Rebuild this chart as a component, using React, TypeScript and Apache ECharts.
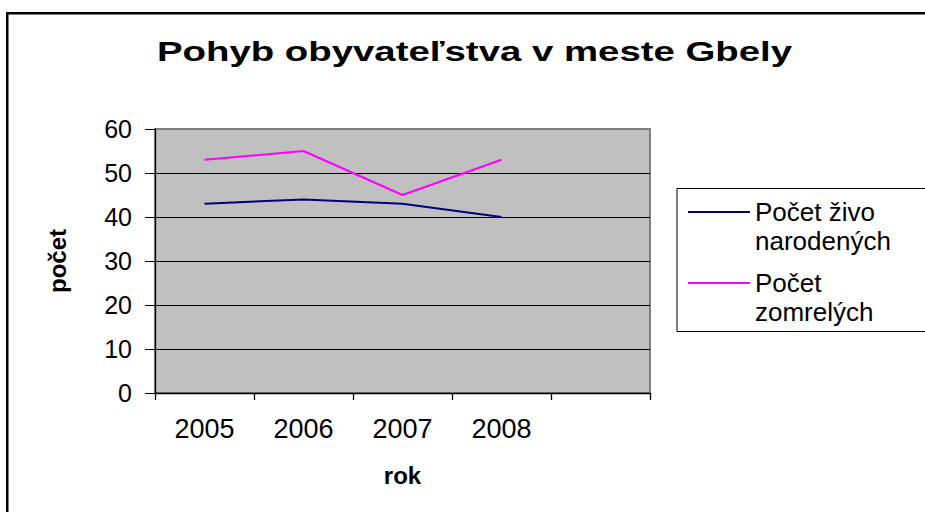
import { useEffect, useRef } from 'react';
import * as echarts from 'echarts';

const titleText = 'Pohyb obyvateľstva v meste Gbely';
const categories = ['2005', '2006', '2007', '2008', ''];
const bornSeriesName = 'Počet živo narodených';
const diedSeriesName = 'Počet zomrelých';
const bornValues = [43, 44, 43, 40];
const diedValues = [53, 55, 45, 53];
const legendLines: Record<string, string> = {
  'Počet živo narodených': 'Počet živo\nnarodených',
  'Počet zomrelých': 'Počet\nzomrelých',
};
const xAxisName = 'rok';
const yAxisName = 'počet';
const yMin = 0;
const yMax = 60;
const yInterval = 10;

const FONT = '"Liberation Sans", Arial, Helvetica, sans-serif';

export default function App() {
  const ref = useRef<HTMLDivElement>(null);

  useEffect(() => {
    if (!ref.current) return;
    const chart = echarts.init(ref.current, undefined, { renderer: 'svg' });
    const splitColors: string[] = [];
    for (let v = yMin; v <= yMax; v += yInterval) {
      splitColors.push(v === yMax ? '#808080' : '#000000');
    }
    chart.setOption({
      animation: false,
      backgroundColor: '#ffffff',
      textStyle: { fontFamily: FONT },
      graphic: [
        {
          type: 'rect',
          z: -10,
          silent: true,
          shape: { x: 7.25, y: 13.2, width: 1000, height: 700 },
          style: { fill: 'none', stroke: '#000', lineWidth: 2.5 },
        },
        {
          type: 'rect',
          z: -5,
          silent: true,
          shape: { x: 677, y: 188.5, width: 400, height: 143 },
          style: { fill: '#ffffff', stroke: '#000', lineWidth: 1 },
        },
        {
          type: 'text',
          x: 474.5,
          y: 51,
          scaleX: 1.37,
          silent: true,
          style: {
            text: titleText,
            fontFamily: FONT,
            fontSize: 28,
            fontWeight: 'bold',
            fill: '#000',
            align: 'center',
            verticalAlign: 'middle',
          },
        },
      ],
      grid: {
        left: 155,
        top: 129,
        width: 495,
        height: 264,
        show: true,
        backgroundColor: '#C0C0C0',
        borderColor: '#808080',
        borderWidth: 2,
        containLabel: false,
      },
      legend: {
        orient: 'vertical',
        left: 688,
        top: 168.5,
        padding: 0,
        icon: 'rect',
        itemWidth: 62,
        itemHeight: 2,
        itemGap: -16,
        data: [bornSeriesName, diedSeriesName],
        formatter: (name: string) => '\n' + (legendLines[name] ?? name),
        textStyle: {
          fontFamily: FONT,
          fontSize: 26,
          lineHeight: 29,
          color: '#000',
        },
      },
      xAxis: {
        type: 'category',
        data: categories,
        boundaryGap: true,
        name: xAxisName,
        nameLocation: 'middle',
        nameGap: 70,
        nameTextStyle: { fontFamily: FONT, fontSize: 24, fontWeight: 'bold', color: '#000' },
        axisLine: { show: true, lineStyle: { color: '#000', width: 1.3 } },
        axisTick: { show: true, length: 7, interval: 0, lineStyle: { color: '#000', width: 1.3 } },
        axisLabel: { interval: 0, fontFamily: FONT, fontSize: 27, margin: 22, color: '#000' },
        splitLine: { show: false },
      },
      yAxis: {
        type: 'value',
        min: yMin,
        max: yMax,
        interval: yInterval,
        name: yAxisName,
        nameLocation: 'middle',
        nameRotate: 90,
        nameGap: 86,
        nameTextStyle: { fontFamily: FONT, fontSize: 24, fontWeight: 'bold', color: '#000' },
        axisLine: { show: true, lineStyle: { color: '#000', width: 1.3 } },
        axisTick: { show: true, length: 10, lineStyle: { color: '#000', width: 1 } },
        axisLabel: { fontFamily: FONT, fontSize: 25, margin: 23, color: '#000' },
        splitLine: { show: true, lineStyle: { color: splitColors, width: 1 } },
      },
      series: [
        {
          name: bornSeriesName,
          type: 'line',
          data: bornValues,
          symbol: 'none',
          lineStyle: { color: '#000080', width: 2 },
          itemStyle: { color: '#000080' },
        },
        {
          name: diedSeriesName,
          type: 'line',
          data: diedValues,
          symbol: 'none',
          lineStyle: { color: '#FF00FF', width: 2 },
          itemStyle: { color: '#FF00FF' },
        },
      ],
    });
    return () => chart.dispose();
  }, []);

  return (
    <div
      ref={ref}
      style={{ position: 'fixed', left: 0, top: 0, width: 925, height: 512 }}
    />
  );
}
